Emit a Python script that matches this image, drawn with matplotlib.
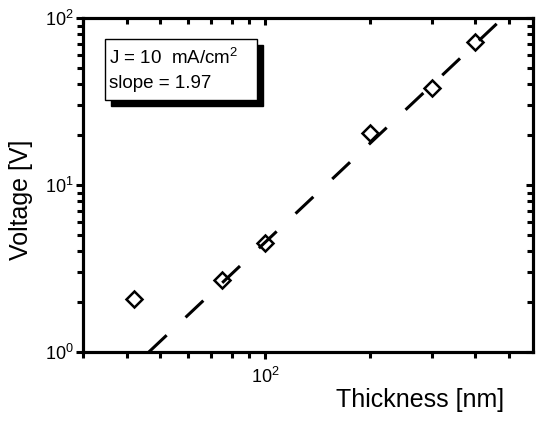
import numpy as np
import matplotlib
matplotlib.use("Agg")
import matplotlib.pyplot as plt
from matplotlib.patches import Rectangle
from matplotlib.ticker import LogLocator

plt.rcParams['font.family'] = ['Liberation Sans', 'DejaVu Sans']
plt.rcParams['mathtext.fontset'] = 'custom'
plt.rcParams['mathtext.rm'] = 'Liberation Sans'

# measured data
thickness = [42, 75, 100, 200, 300, 400]      # nm
voltage = [2.07, 2.7, 4.5, 20.5, 38, 72]      # V

# power-law fit V = 10**fit_logc * d**fit_slope
fit_slope = 1.97
fit_logc = -3.282

LW = 2.2

fig = plt.figure(figsize=(5.36, 4.30), dpi=100)
ax = fig.add_axes([0.1549, 0.1814, 0.8396, 0.7767])

d_start = 10 ** (-fit_logc / fit_slope)
d_fit = np.logspace(np.log10(d_start), np.log10(700), 200)
v_fit = 10 ** fit_logc * d_fit ** fit_slope
ax.plot(d_fit, v_fit, color='black', lw=LW, dashes=(8, 8.5), dash_capstyle='butt')

ax.plot(thickness, voltage, ls='none', marker='D', ms=8.5,
        mfc='none', mec='black', mew=1.8)

ax.set_xscale('log')
ax.set_yscale('log')
ax.set_xlim(30, 586)
ax.set_ylim(1, 100)

minor = LogLocator(base=10, subs=np.arange(2, 10), numticks=10)
ax.xaxis.set_minor_locator(minor)
ax.yaxis.set_minor_locator(LogLocator(base=10, subs=np.arange(2, 10), numticks=10))

# bottom/left ticks point outward
ax.tick_params(which='both', direction='out', width=LW, labelsize=13)
ax.tick_params(which='major', length=5)
ax.tick_params(which='minor', length=4)
ax.tick_params(axis='x', which='major', pad=6)
ax.tick_params(axis='y', which='major', pad=2)

ax.set_xlabel('Thickness [nm]', fontsize=18)
ax.set_ylabel('Voltage [V]', fontsize=18)
ax.xaxis.set_label_coords(0.749, -0.108)
ax.yaxis.set_label_coords(-0.111, 0.455)

# top/right ticks point inward
axt = ax.twiny()
axt.set_xscale('log')
axt.set_xlim(ax.get_xlim())
axt.xaxis.set_minor_locator(LogLocator(base=10, subs=np.arange(2, 10), numticks=10))
axt.tick_params(axis='x', which='both', direction='in', width=LW, labeltop=False)
axt.tick_params(axis='x', which='major', length=5)
axt.tick_params(axis='x', which='minor', length=4)

axr = ax.twinx()
axr.set_yscale('log')
axr.set_ylim(ax.get_ylim())
axr.yaxis.set_minor_locator(LogLocator(base=10, subs=np.arange(2, 10), numticks=10))
axr.tick_params(axis='y', which='both', direction='in', width=LW, labelright=False)
axr.tick_params(axis='y', which='major', length=5)
axr.tick_params(axis='y', which='minor', length=4)

for a in (ax, axt, axr):
    for sp in a.spines.values():
        sp.set_linewidth(LW)

# annotation box with drop shadow
bx, by, bw, bh = 0.049, 0.754, 0.338, 0.183
ax.add_patch(Rectangle((bx + 0.0133, by - 0.018), bw, bh, transform=ax.transAxes,
                       facecolor='black', edgecolor='black', zorder=4))
ax.add_patch(Rectangle((bx, by), bw, bh, transform=ax.transAxes,
                       facecolor='white', edgecolor='black', lw=1, zorder=5))
ax.text(bx + 0.008, by + bh * 0.70, r'J = 10  mA/cm$^2$', transform=ax.transAxes,
        fontsize=13.5, va='center', ha='left', zorder=6)
ax.text(bx + 0.008, by + bh * 0.27, 'slope = 1.97', transform=ax.transAxes,
        fontsize=13.5, va='center', ha='left', zorder=6)

fig.savefig('out.png', dpi=100)
